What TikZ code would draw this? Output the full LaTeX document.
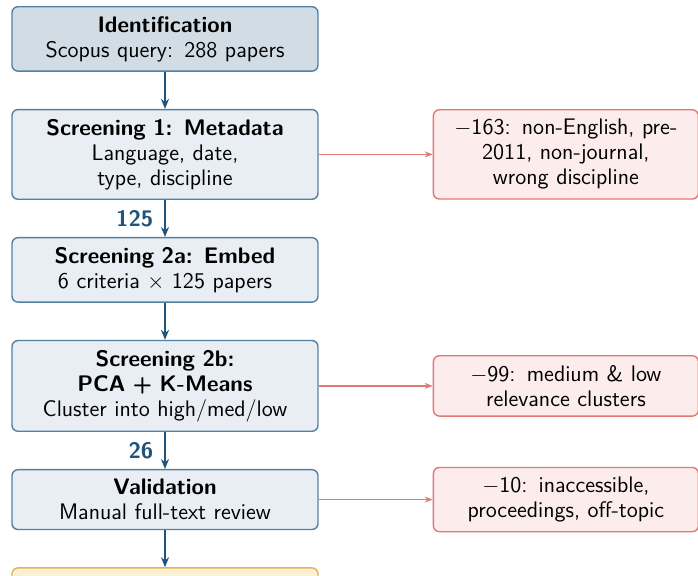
\documentclass[tikz,border=0pt]{standalone}
\usepackage{amsmath}
\usepackage{xcolor}
\usepackage{tikz}
\usetikzlibrary{arrows.meta}
\usetikzlibrary{positioning}
\definecolor{stageblue}{RGB}{31,84,124}
\definecolor{stageline}{RGB}{84,128,162}
\definecolor{stagefill}{RGB}{232,238,243}
\definecolor{headfill}{RGB}{209,220,229}
\definecolor{dropred}{RGB}{222,122,120}
\definecolor{dropfill}{RGB}{252,236,236}
\definecolor{finalline}{RGB}{228,182,82}
\definecolor{finalfill}{RGB}{251,239,212}

\begin{document}
\begin{tikzpicture}[
    font=\sffamily\fontsize{11.25}{12.5}\selectfont,
    node distance=18.5pt,
    stage/.style={draw=stageline, fill=stagefill, line width=0.7pt, rounded corners=3pt,
                  text width=141pt, align=center, inner xsep=6pt, inner ysep=4.75pt},
    drop/.style={draw=dropred, fill=dropfill, line width=0.7pt, rounded corners=3pt,
                 text width=120.5pt, align=center, inner xsep=6pt, inner ysep=4.75pt},
    flow/.style={-{Stealth[length=5pt,width=4pt]}, draw=stageblue, line width=1pt},
    cut/.style={-{Stealth[length=4pt,width=3pt]}, draw=dropred, line width=0.6pt},
    count/.style={left=2pt, font=\sffamily\bfseries\fontsize{11.25}{12.5}\selectfont, text=stageblue}
]
    % Cadre
    \useasboundingbox (-82.5pt,3pt) rectangle (266.5pt,-284.5pt);

    % Etapes
    \node[stage, fill=headfill, anchor=north] (ident) at (0,0)
        {\textbf{Identification}\\Scopus query: 288 papers};
    \node[stage, below=of ident] (scr1)
        {\textbf{Screening 1: Metadata}\\Language, date,\\type, discipline};
    \node[stage, below=of scr1] (scr2a)
        {\textbf{Screening 2a: Embed}\\6 criteria $\times$ 125 papers};
    \node[stage, below=of scr2a] (scr2b)
        {\textbf{Screening 2b:}\\\textbf{PCA + K-Means}\\Cluster into high/med/low};
    \node[stage, below=of scr2b] (valid)
        {\textbf{Validation}\\Manual full-text review};
    \node[stage, draw=finalline, fill=finalfill, minimum height=40pt, below=of valid] (final) {};

    % Exclusions
    \node[drop, right=57pt of scr1] (excl1)
        {$-$163: non-English, pre-\\2011, non-journal,\\wrong discipline};
    \node[drop, right=57pt of scr2b] (excl2)
        {$-$99: medium \& low\\relevance clusters};
    \node[drop, right=57pt of valid] (excl3)
        {$-$10: inaccessible,\\proceedings, off-topic};

    % Fleches
    \draw[flow] (ident) -- (scr1);
    \draw[flow] (scr1) -- node[count] {125} (scr2a);
    \draw[flow] (scr2a) -- (scr2b);
    \draw[flow] (scr2b) -- node[count] {26} (valid);
    \draw[flow] (valid) -- (final);

    \draw[cut] (scr1) -- (excl1);
    \draw[cut] (scr2b) -- (excl2);
    \draw[cut] (valid) -- (excl3);

\end{tikzpicture}
\end{document}
